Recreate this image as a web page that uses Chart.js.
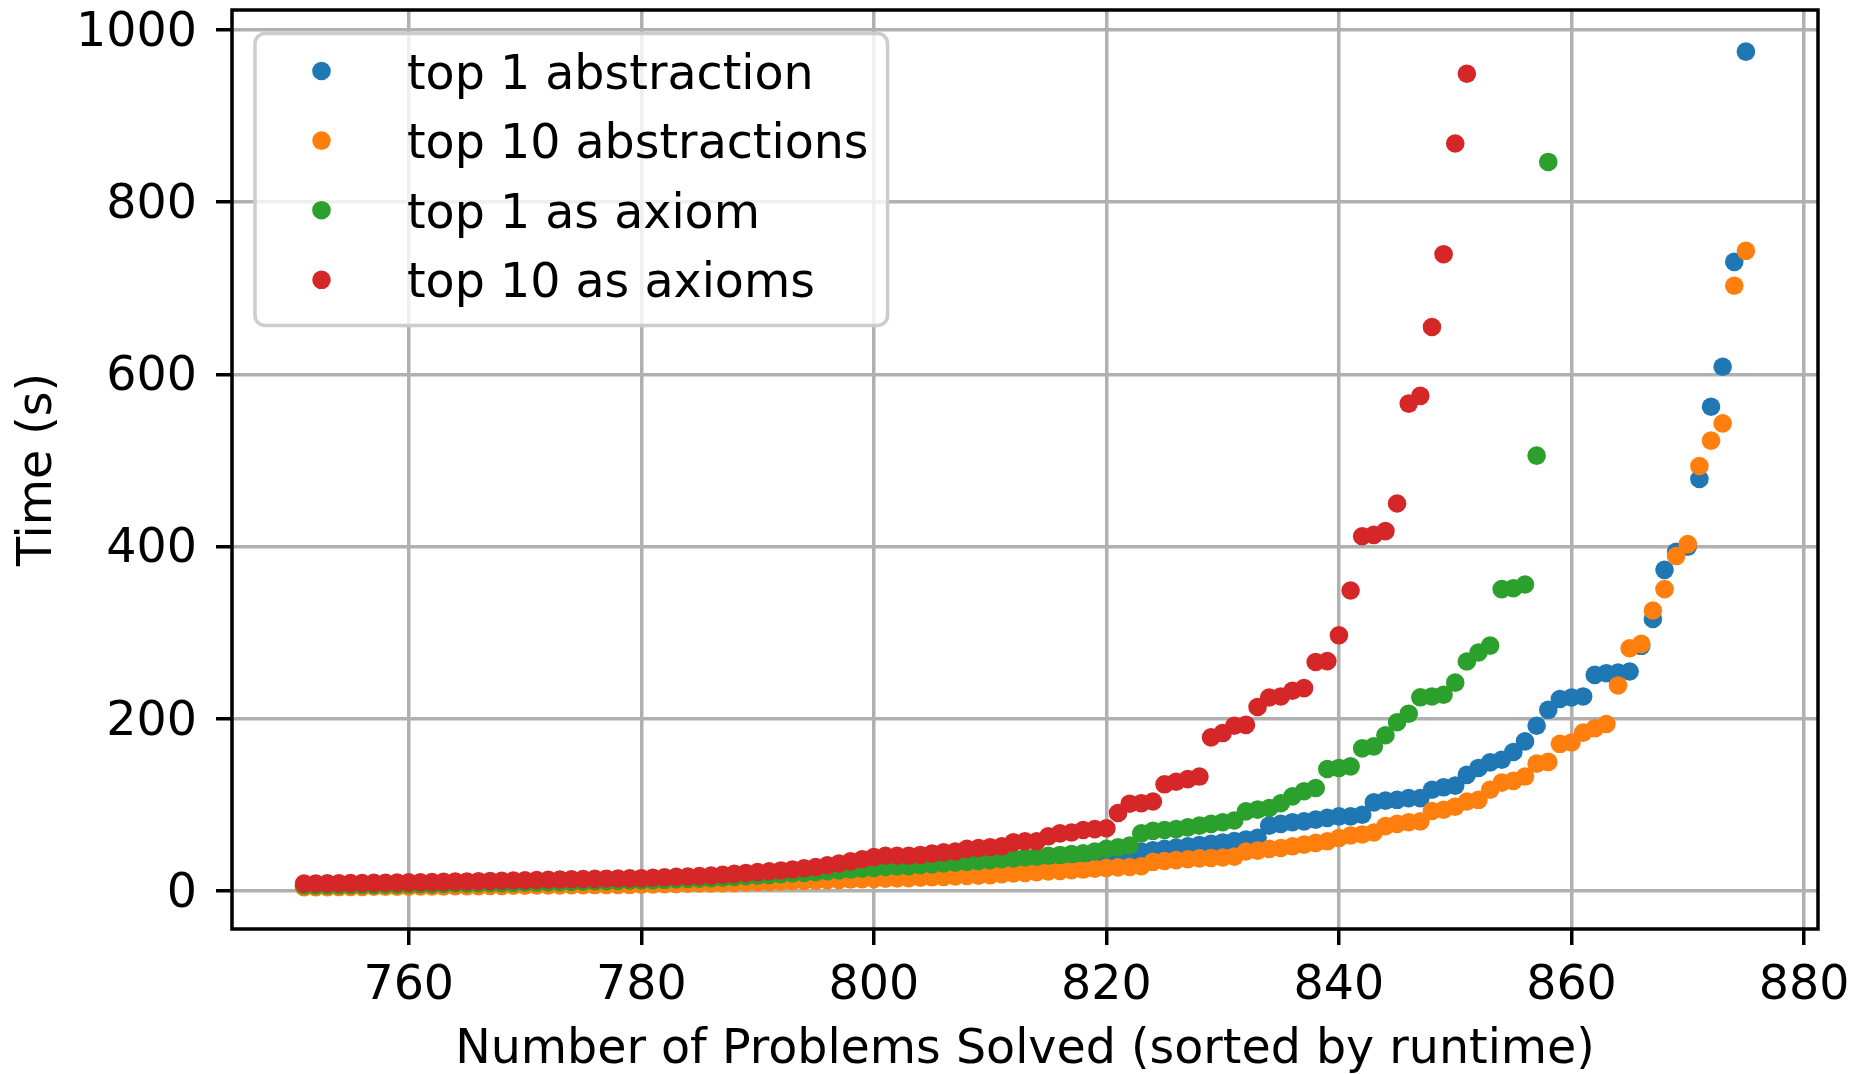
<!DOCTYPE html>
<html><head><meta charset="utf-8">
<script src="https://cdn.jsdelivr.net/npm/chart.js@4.4.1/dist/chart.umd.min.js"></script>
<style>html,body{margin:0;padding:0;background:#fff}canvas{display:block}</style>
</head><body>
<canvas id="c" width="1872" height="1074"></canvas>
<script>
// ---- data ----
const firstProblem = 751;   // rank of the first plotted problem
const seriesLabels = ["top 1 abstraction", "top 10 abstractions", "top 1 as axiom", "top 10 as axioms"];
const seriesColors = ["#1f77b4", "#ff7f0e", "#2ca02c", "#d62728"];

const top1Abstraction = [
  5.5,5.6,5.7,5.8,5.9,6,6.1,6.2,6.3,6.5,
  6.6,6.8,7,7.2,7.4,7.6,7.8,8,8.2,8.4,
  8.6,8.8,9,9.2,9.4,9.6,9.8,10,10.2,10.5,
  10.8,11.2,11.6,12,12.5,13,13.5,14,14.6,15.2,
  15.8,16.5,17.2,18,18.8,19.6,20.4,21.2,22,23,
  24,25,26,27,28,29,30,31,32,33,
  34,35,36,37,38,39,40,41,41.5,42,
  42.5,43,46,47.5,49,50.5,52,53.5,55,56.5,
  58,60,62,76,78,80,81,83,85,86.8,
  86.8,88.7,103,105,106,108,108,117.7,120.5,122.5,
  135,143,149.5,152.5,161.5,173.8,192,210.5,223,224.8,
  226,251,253,253.8,255,284.8,316,373,394,400,
  478.5,562.4,608.8,730.6,974.7
];
const top10Abstractions = [
  4.5,4.5,4.6,4.7,4.8,4.9,5,5,5.1,5.2,
  5.3,5.4,5.5,5.6,5.7,5.8,6,6.1,6.2,6.4,
  6.5,6.6,6.7,6.8,6.9,7,7.1,7.2,7.3,7.5,
  7.7,8,8.2,8.5,8.8,9,9.3,9.6,10,10.3,
  10.7,11,11.4,11.8,12.2,12.6,13,13.4,13.8,14.2,
  14.5,14.8,15,15.5,16,16.5,17,17.5,18,18.5,
  19.7,20.5,21.2,22,22.8,23.5,24.3,25,26,27,
  27.5,28,28.8,34,35,36,37,38,38.5,39,
  40,46,47,49,50,52,54,56,57.8,61.7,
  64.6,65.8,68,75.4,78,80,81,93,94.5,98,
  104,106,117.7,126,128,133,148,150,171,172.6,
  184,189,194,238.8,282,287,325.8,350.6,389,402.8,
  493.6,523,543,702.8,743.4
];
const top1AsAxiom = [
  6.5,6.6,6.7,6.8,7,7.1,7.2,7.4,7.5,7.7,
  7.9,8.1,8.3,8.5,8.7,8.9,9.1,9.3,9.5,9.7,
  9.9,10.1,10.3,10.6,10.9,11.2,11.5,11.8,12,12.3,
  12.7,13.1,13.5,14,14.5,15,15.7,16.4,17.2,18,
  18.8,19.6,20.4,21.2,22,23,24,25,26,27,
  28,28.5,29,30,31,32,33,34,35,36,
  37,38,39,40,41,42,43,44,46,49,
  51,53,67,70,71,72,74,76,78,80,
  82,92.6,94.6,96.5,102,110,116,119.7,141.8,143,
  144.8,165.7,168,181,196,206,225,226,228,242,
  266.6,277,285,350.6,351.7,356,505.6,846.6
];
const top10AsAxioms = [
  8.7,8.8,9,9.1,9.3,9.4,9.6,9.7,9.9,10.1,
  10.3,10.5,10.7,11,11.2,11.5,11.8,12,12.3,12.6,
  12.9,13.2,13.5,13.8,14,14.2,14.4,14.6,14.8,15,
  15.5,16,16.5,17,17.5,18,19,20,21,22,
  23,24,25,26.5,28,30,32,34.5,37,39.5,
  41,41,41,42,43.5,45,46,49,50,51,
  52,56.6,57.8,57.8,63.6,67,68,71,72,73,
  90.7,101.5,102,104,124,127,130,133,178.5,183.5,
  192,193,213.7,224.8,226,232.6,235.7,266,267,297,
  349,412,413.6,418,450,566,575,655,739.5,868,949
];
const seriesValues = [top1Abstraction, top10Abstractions, top1AsAxiom, top10AsAxioms];

const xTicks = [760, 780, 800, 820, 840, 860, 880];
const yTicks = [0, 200, 400, 600, 800, 1000];
const xLabel = "Number of Problems Solved (sorted by runtime)";
const yLabel = "Time (s)";

// ---- chart ----
const FONT = "DejaVu Sans";
const FS = 47.5;

function toPoints(vals) {
  return vals.map((v, i) => ({ x: firstProblem + i, y: v }));
}

const datasets = seriesValues.map((vals, k) => ({
  label: seriesLabels[k],
  data: toPoints(vals),
  backgroundColor: seriesColors[k],
  borderWidth: 0,
  pointRadius: 9.3,
  pointHoverRadius: 9.3,
  order: seriesValues.length - k
}));

const framePlugin = {
  id: 'frameAndLegend',
  afterDatasetsDraw(chart) {
    const { ctx, chartArea: a } = chart;
    ctx.save();
    ctx.strokeStyle = '#000';
    ctx.lineWidth = 3.5;
    ctx.strokeRect(a.left, a.top, a.right - a.left, a.bottom - a.top);
    ctx.restore();
  },
  afterDraw(chart) {
    const { ctx, chartArea: a } = chart;
    ctx.save();
    ctx.font = FS + 'px "' + FONT + '"';
    let maxW = 0;
    chart.data.datasets.forEach(d => { maxW = Math.max(maxW, ctx.measureText(d.label).width); });
    const pad = 0.4 * FS, handleLen = 2 * FS, textPad = 0.8 * FS;
    const bx = a.left + 23, by = a.top + 23.5;
    const bw = pad + handleLen + textPad + maxW + pad;
    const bh = 292;
    ctx.beginPath();
    ctx.roundRect(bx, by, bw, bh, 10);
    ctx.fillStyle = 'rgba(255,255,255,0.8)';
    ctx.fill();
    ctx.lineWidth = 3.5;
    ctx.strokeStyle = '#cccccc';
    ctx.stroke();
    chart.data.datasets.forEach((d, i) => {
      const cy = by + 37.5 + i * 69.6;
      ctx.beginPath();
      ctx.arc(bx + pad + handleLen / 2, cy, 9.3, 0, Math.PI * 2);
      ctx.fillStyle = d.backgroundColor;
      ctx.fill();
      ctx.fillStyle = '#000';
      ctx.textAlign = 'left';
      ctx.textBaseline = 'alphabetic';
      ctx.fillText(d.label, bx + pad + handleLen + textPad, cy + 17.5);
    });
    ctx.restore();
  }
};

const gridOpts = { color: '#b0b0b0', lineWidth: 3.5, tickColor: '#000', tickLength: 16, tickWidth: 3.5, drawTicks: true };

new Chart(document.getElementById('c'), {
  type: 'scatter',
  data: { datasets },
  options: {
    responsive: false,
    animation: false,
    events: [],
    layout: { padding: { top: 10, right: 54, left: 0, bottom: 0 } },
    plugins: { legend: { display: false }, tooltip: { enabled: false } },
    scales: {
      x: {
        type: 'linear', position: 'bottom',
        min: 744.8, max: 881.2,
        afterBuildTicks: s => { s.ticks = xTicks.map(v => ({ value: v })); },
        afterFit: s => { s.height = 145; s.paddingLeft = 0; s.paddingRight = 0; },
        grid: gridOpts,
        border: { display: false },
        ticks: { font: { family: FONT, size: FS }, color: '#000', padding: 13, maxRotation: 0, autoSkip: false, callback: v => String(v) },
        title: { display: true, text: xLabel, color: '#000', font: { family: FONT, size: FS, lineHeight: 1 }, padding: { top: 0, bottom: 0 } }
      },
      y: {
        type: 'linear', position: 'left',
        min: -44, max: 1023,
        afterBuildTicks: s => { s.ticks = yTicks.map(v => ({ value: v })); },
        afterFit: s => { s.width = 232; s.paddingTop = 0; s.paddingBottom = 0; },
        grid: gridOpts,
        border: { display: false },
        ticks: { font: { family: FONT, size: FS }, color: '#000', padding: 19, labelOffset: 3.5, autoSkip: false, callback: v => String(v) },
        title: { display: true, text: yLabel, color: '#000', font: { family: FONT, size: FS }, padding: { top: 10, bottom: 0 } }
      }
    }
  },
  plugins: [framePlugin]
});
</script>
</body></html>
